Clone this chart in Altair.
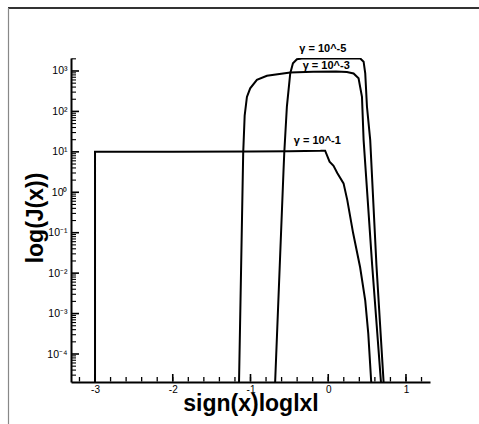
import math
import altair as alt
import pandas as pd

# ---- data ----
x_g1 = [-3.0, -3.0, -2.0, -1.0, -0.5, -0.1, -0.04, 0.017, 0.068, 0.116, 0.197, 0.245, 0.32, 0.41, 0.476, 0.515, 0.553, 0.56]
y_g1 = [1e-6, 10.0, 10.1, 10.25, 10.4, 10.6, 10.7, 5.7, 4.5, 3.0, 1.66, 0.64, 0.098, 0.014, 0.0021, 3.2e-4, 2e-5, 5e-6]

x_g3 = [-1.16, -1.098, -1.094, -1.075, -1.046, -1.004, -0.918, -0.789, -0.489, -0.193, 0.10, 0.24, 0.326, 0.39, 0.434, 0.455, 0.565, 0.678, 0.683]
y_g3 = [1e-6, 3.5, 9.3, 79, 229, 372, 603, 759, 912, 955, 965, 945, 871, 661, 229, 19.5, 0.0158, 2.04e-5, 1e-5]

x_g5 = [-0.71, -0.575, -0.566, -0.532, -0.489, -0.454, -0.403, -0.34, 0.0, 0.412, 0.455, 0.476, 0.498, 0.54, 0.62, 0.712, 0.717]
y_g5 = [1e-6, 3.55, 9.1, 132, 871, 1550, 1950, 2040, 2040, 2040, 1700, 871, 132, 19.5, 0.0158, 2.04e-5, 1e-5]

labels_txt = ["\u03b3 = 10^-5", "\u03b3 = 10^-3", "\u03b3 = 10^-1"]
labels_x = [-0.07, -0.026, -0.14]
labels_y = [3510, 1330, 19]

major_x = [-3, -2, -1, 0, 1]
minor_x = [-3.2, -3.0, -2.8, -2.6, -2.4, -2.2, -2.0, -1.8, -1.6, -1.4, -1.2, -1.0, -0.8, -0.6,
           -0.4, -0.2, 0.0, 0.2, 0.4, 0.6, 0.8, 1.0, 1.2]
major_y = [1e-4, 1e-3, 1e-2, 1e-1, 1, 10, 100, 1000]
minor_y = [m * 10.0 ** e for e in range(-5, 4) for m in range(2, 10)
           if 2.05e-5 < m * 10.0 ** e < 2095]

X_DOMAIN = [-3.309, 1.309]
Y_DOMAIN = [2.03e-5, 2095]
W, H = 359, 324

rows = []
for name, xs, ys in [("g1", x_g1, y_g1), ("g3", x_g3, y_g3), ("g5", x_g5, y_g5)]:
    for i, (a, b) in enumerate(zip(xs, ys)):
        rows.append({"series": name, "x": a, "y": b, "i": i, "w": 2.0})

# inward tick marks drawn as two-point segments (tick length in pixels -> data units)
px_per_x = W / (X_DOMAIN[1] - X_DOMAIN[0])
px_per_dec = H / (math.log10(Y_DOMAIN[1]) - math.log10(Y_DOMAIN[0]))
k = 0
for vals, size, w in [(minor_x, 5, 1.3), (major_x, 8, 1.6)]:
    for v in vals:
        k += 1
        y0 = Y_DOMAIN[0] * 10 ** (0.5 / px_per_dec)
        rows.append({"series": f"tx{k}", "x": v, "y": y0, "i": 0, "w": w})
        rows.append({"series": f"tx{k}", "x": v, "y": Y_DOMAIN[0] * 10 ** (size / px_per_dec), "i": 1, "w": w})
for vals, size, w in [(minor_y, 5, 1.1), (major_y, 8, 1.6)]:
    for v in vals:
        k += 1
        rows.append({"series": f"ty{k}", "x": X_DOMAIN[0] + 0.5 / px_per_x, "y": v, "i": 0, "w": w})
        rows.append({"series": f"ty{k}", "x": X_DOMAIN[0] + size / px_per_x, "y": v, "i": 1, "w": w})
df = pd.DataFrame(rows)
lab = pd.DataFrame({"x": labels_x, "y": labels_y, "t": labels_txt})
one = pd.DataFrame({"a": [0]})

FONT = "Liberation Sans"
xscale = alt.Scale(domain=X_DOMAIN, nice=False, zero=False)
yscale = alt.Scale(type="log", domain=Y_DOMAIN, nice=False)

e = "round(log(datum.value)/LN10)"
sup = {3: "\u00b3", 2: "\u00b2", 1: "\u00b9", 0: "\u2070", -1: "\u207b\u00b9",
       -2: "\u207b\u00b2", -3: "\u207b\u00b3", -4: "\u207b\u2074"}
ylabel_expr = "".join(f"{e}=={kk} ? '10{v}' : " for kk, v in sup.items()) + "''"
xlabel_expr = "datum.value < 0 ? '-' + abs(datum.value) : '' + datum.value"

lines = alt.Chart(df).mark_line(clip=True, color="black").encode(
    x=alt.X("x:Q", scale=xscale, axis=alt.Axis(
        orient="bottom", values=major_x, ticks=False, grid=False,
        domainColor="black", domainWidth=2,
        labelFont=FONT, labelFontSize=10, labelColor="black", labelPadding=2,
        labelExpr=xlabel_expr,
        title="sign(x)loglxl", titleFont=FONT, titleFontSize=23, titleFontWeight="bold",
        titleColor="black", titleY=28, titleBaseline="alphabetic")),
    y=alt.Y("y:Q", scale=yscale, axis=alt.Axis(
        orient="left", values=major_y, ticks=False, grid=False,
        domainColor="black", domainWidth=2,
        labelFont=FONT, labelFontSize=10.5, labelColor="black", labelPadding=4,
        labelExpr=ylabel_expr,
        title="log(J(x))", titleFont=FONT, titleFontSize=23, titleFontWeight="bold",
        titleColor="black", titleAngle=270, titleX=-29, titleY=159.5,
        titleAlign="center", titleBaseline="alphabetic")),
    detail="series:N",
    order="i:Q",
    strokeWidth=alt.StrokeWidth("w:Q", scale=None, legend=None),
)

texts = alt.Chart(lab).mark_text(font=FONT, fontSize=11, fontWeight="bold", color="black",
                                 align="center", baseline="middle").encode(
    x=alt.X("x:Q", scale=xscale, axis=None),
    y=alt.Y("y:Q", scale=yscale, axis=None),
    text="t:N")

frame_top = alt.Chart(one).mark_rule(color="#333333", strokeWidth=2).encode(
    x=alt.value(-63), x2=alt.value(420), y=alt.value(-50))
frame_left = alt.Chart(one).mark_rule(color="#888888", strokeWidth=1.2).encode(
    x=alt.value(-62.5), y=alt.value(-50), y2=alt.value(380))

chart = alt.layer(
    frame_top, frame_left, lines, texts
).resolve_axis(x="independent", y="independent").properties(
    width=W, height=H,
    padding={"left": 71, "top": 58, "right": 49, "bottom": 42},
    autosize="none",
    background="white",
).configure_view(stroke=None)

chart.save("out.html", embed_options={"renderer": "svg", "actions": False})
